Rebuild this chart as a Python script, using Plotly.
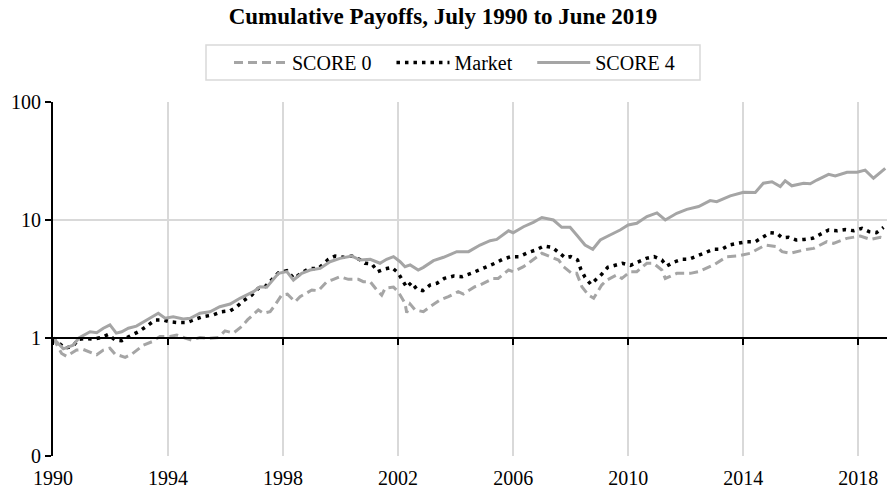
import plotly.graph_objects as go

# ---- data ----
s4_x = [1990.0, 1990.36, 1990.7, 1990.9, 1991.29, 1991.52, 1991.75, 1991.98, 1992.2, 1992.39, 1992.62, 1992.9,
        1993.26, 1993.66, 1993.9, 1994.18, 1994.53, 1994.77, 1995.11, 1995.46, 1995.8, 1996.16, 1996.5, 1996.97,
        1997.2, 1997.43, 1997.84, 1998.13, 1998.36, 1998.65, 1998.94, 1999.29, 1999.63, 1999.98, 2000.39, 2000.68,
        2001.03, 2001.37, 2001.6, 2001.84, 2002.07, 2002.24, 2002.42, 2002.7, 2002.88, 2003.23, 2003.58, 2004.04,
        2004.45, 2004.85, 2005.2, 2005.43, 2005.84, 2006.0, 2006.36, 2006.7, 2007.0, 2007.4, 2007.69, 2007.98,
        2008.21, 2008.5, 2008.77, 2009.03, 2009.37, 2009.72, 2010.0, 2010.3, 2010.65, 2011.0, 2011.29, 2011.69,
        2012.04, 2012.45, 2012.85, 2013.08, 2013.55, 2014.01, 2014.42, 2014.7, 2015.0, 2015.29, 2015.46, 2015.69,
        2016.1, 2016.33, 2016.56, 2016.97, 2017.2, 2017.61, 2017.96, 2018.24, 2018.53, 2018.77, 2018.94]
s4_y = [1.00, 0.81, 0.87, 1.00, 1.13, 1.11, 1.21, 1.29, 1.10, 1.13, 1.21, 1.26,
        1.42, 1.62, 1.47, 1.51, 1.45, 1.47, 1.62, 1.67, 1.84, 1.94, 2.17, 2.47,
        2.72, 2.69, 3.53, 3.65, 3.10, 3.53, 3.77, 3.89, 4.43, 4.73, 4.95, 4.58,
        4.65, 4.30, 4.65, 4.89, 4.43, 4.02, 4.16, 3.77, 3.97, 4.52, 4.83, 5.39,
        5.39, 6.14, 6.68, 6.85, 8.11, 7.80, 8.77, 9.55, 10.5, 10.0, 8.67, 8.67,
        7.46, 6.14, 5.65, 6.77, 7.46, 8.23, 9.07, 9.38, 10.7, 11.5, 10.0, 11.4,
        12.3, 13.0, 14.6, 14.3, 16.0, 17.2, 17.1, 20.5, 21.1, 19.2, 21.5, 19.5,
        20.5, 20.3, 21.8, 24.4, 23.6, 25.4, 25.4, 26.5, 22.6, 25.2, 27.4]

mk_x = [1990.0, 1990.42, 1990.7, 1990.88, 1991.17, 1991.4, 1991.69, 1991.92, 1992.16, 1992.39, 1992.68, 1992.97,
        1993.26, 1993.55, 1993.84, 1994.07, 1994.36, 1994.65, 1994.94, 1995.23, 1995.58, 1995.87, 1996.16, 1996.39,
        1996.62, 1996.91, 1997.14, 1997.37, 1997.6, 1997.84, 1998.13, 1998.38, 1998.65, 1998.92, 1999.23, 1999.58,
        1999.81, 2000.12, 2000.39, 2000.65, 2000.85, 2001.09, 2001.29, 2001.49, 2001.78, 2002.0, 2002.16, 2002.3,
        2002.47, 2002.65, 2002.86, 2003.11, 2003.35, 2003.61, 2003.93, 2004.22, 2004.54, 2004.83, 2005.09, 2005.37,
        2005.64, 2005.92, 2006.21, 2006.5, 2006.79, 2007.07, 2007.36, 2007.58, 2007.81, 2008.0, 2008.24, 2008.35,
        2008.5, 2008.7, 2008.88, 2009.08, 2009.29, 2009.56, 2009.8, 2010.08, 2010.35, 2010.63, 2010.9, 2011.17,
        2011.34, 2011.6, 2011.87, 2012.1, 2012.39, 2012.68, 2012.97, 2013.26, 2013.52, 2013.8, 2014.12, 2014.42,
        2014.65, 2014.94, 2015.17, 2015.35, 2015.58, 2015.84, 2016.12, 2016.41, 2016.68, 2016.97, 2017.26, 2017.55,
        2017.84, 2018.13, 2018.39, 2018.63, 2018.88]
mk_y = [1.00, 0.82, 0.855, 0.975, 0.99, 0.98, 1.01, 1.07, 0.96, 0.95, 1.04, 1.13,
        1.26, 1.42, 1.42, 1.37, 1.35, 1.35, 1.44, 1.52, 1.57, 1.67, 1.70, 1.84,
        2.07, 2.31, 2.64, 2.72, 3.10, 3.57, 3.72, 3.20, 3.57, 3.89, 3.89, 4.65,
        4.95, 4.83, 4.95, 4.65, 4.30, 4.24, 3.65, 3.82, 3.96, 3.57, 3.06, 2.69,
        2.96, 2.59, 2.52, 2.81, 2.91, 3.20, 3.35, 3.31, 3.53, 3.77, 4.02, 4.30,
        4.65, 4.89, 4.89, 5.28, 5.57, 6.02, 5.86, 5.30, 4.79, 4.89, 4.58, 3.84,
        3.27, 2.85, 3.10, 3.47, 3.97, 4.16, 4.30, 4.13, 4.43, 4.73, 4.89, 4.58,
        4.07, 4.41, 4.65, 4.65, 4.95, 5.32, 5.65, 5.65, 6.14, 6.34, 6.55, 6.55,
        7.13, 7.80, 7.70, 7.07, 7.13, 6.77, 6.85, 6.99, 7.56, 8.23, 8.11, 8.30,
        8.11, 8.51, 7.95, 7.80, 8.67]

s0_x = [1990.0, 1990.3, 1990.47, 1990.82, 1991.05, 1991.52, 1991.75, 1991.98, 1992.16, 1992.51, 1992.74, 1993.14,
        1993.44, 1993.72, 1994.07, 1994.3, 1994.59, 1994.82, 1995.11, 1995.4, 1995.75, 1995.98, 1996.27, 1996.56,
        1996.77, 1997.14, 1997.32, 1997.55, 1997.72, 1997.95, 1998.15, 1998.42, 1998.59, 1999.0, 1999.23, 1999.52,
        1999.69, 1999.98, 2000.27, 2000.62, 2000.79, 2001.03, 2001.26, 2001.43, 2001.55, 2001.84, 2002.0, 2002.24,
        2002.3, 2002.42, 2002.59, 2002.88, 2003.11, 2003.46, 2003.75, 2004.09, 2004.27, 2004.67, 2004.85, 2005.3,
        2005.48, 2005.84, 2006.0, 2006.36, 2006.6, 2007.0, 2007.29, 2007.58, 2007.75, 2008.04, 2008.21, 2008.39,
        2008.62, 2008.8, 2009.08, 2009.26, 2009.6, 2009.78, 2010.07, 2010.3, 2010.65, 2010.88, 2011.17, 2011.29,
        2011.69, 2012.16, 2012.45, 2012.97, 2013.43, 2013.78, 2014.24, 2014.59, 2014.77, 2015.17, 2015.35, 2015.63,
        2016.1, 2016.45, 2016.91, 2017.14, 2017.6, 2018.07, 2018.42, 2018.77, 2018.94]
s0_y = [1.00, 0.74, 0.70, 0.79, 0.80, 0.72, 0.79, 0.82, 0.73, 0.686, 0.73, 0.87,
        0.93, 1.03, 1.03, 1.06, 1.00, 0.96, 1.01, 0.99, 1.01, 1.15, 1.10, 1.25,
        1.43, 1.73, 1.62, 1.67, 1.90, 2.31, 2.35, 2.03, 2.24, 2.55, 2.52, 3.00,
        3.10, 3.31, 3.14, 3.14, 3.00, 3.00, 2.55, 2.31, 2.64, 2.70, 2.47, 1.97,
        1.64, 1.94, 1.73, 1.67, 1.84, 2.10, 2.24, 2.47, 2.36, 2.72, 2.81, 3.20,
        3.20, 3.77, 3.65, 4.02, 4.43, 5.22, 4.89, 4.58, 4.02, 3.53, 3.53, 2.72,
        2.31, 2.17, 2.81, 3.10, 3.42, 3.20, 3.65, 3.65, 4.30, 4.30, 3.77, 3.20,
        3.53, 3.53, 3.65, 4.16, 4.89, 4.95, 5.22, 5.75, 6.14, 5.94, 5.39, 5.22,
        5.57, 5.75, 6.55, 6.34, 6.99, 7.30, 6.85, 7.13, 6.99]

x_ticks = [1990, 1994, 1998, 2002, 2006, 2010, 2014, 2018]
x_ticktext = ["1990", "1994", "1998", "2002", "2006", "2010", "2014", "2018"]
y_ticks = [0.1, 1, 10, 100]
y_ticktext = ["0", "1", "10", "100"]

FONT = "Liberation Serif, Times New Roman, serif"
GRAY = "#a5a5a5"
GRID = "#d9d9d9"
PAD = "\u00a0" * 3  # spacing between legend entries

# plot area in pixels: left 53, right 887, top 102, bottom 456
L, R, T, B = 53, 887, 102, 456
def px_x(p):
    return (p - L) / (R - L)
def px_y(p):
    return (B - p) / (B - T)

fig = go.Figure()
fig.add_trace(go.Scatter(x=s0_x, y=s0_y, mode="lines", name="SCORE 0" + PAD,
                         line=dict(color=GRAY, width=3, dash="9px,5px")))
fig.add_trace(go.Scatter(x=mk_x, y=mk_y, mode="lines", name="Market" + PAD,
                         line=dict(color="black", width=3.5, dash="3.5px,5px")))
fig.add_trace(go.Scatter(x=s4_x, y=s4_y, mode="lines", name="SCORE 4",
                         line=dict(color=GRAY, width=3)))
# invisible helper trace so that the crossing axis at y = 1 is drawn
fig.add_trace(go.Scatter(x=[x_ticks[0]], y=[1], xaxis="x2", mode="markers",
                         marker=dict(opacity=0), showlegend=False, hoverinfo="skip"))

fig.update_layout(
    width=887, height=491,
    margin=dict(l=L, r=887 - R, t=T, b=491 - B),
    paper_bgcolor="white", plot_bgcolor="white",
    font=dict(family=FONT, size=20, color="black"),
    title=dict(text="<b>Cumulative Payoffs, July 1990 to June 2019</b>",
               x=px_x(443), xref="paper", xanchor="center", y=1 - 16 / 491, yanchor="middle",
               font=dict(family=FONT, size=23, color="black")),
    legend=dict(orientation="h", x=px_x(229), xanchor="left", y=px_y(43), yanchor="top",
                borderwidth=0, bgcolor="rgba(0,0,0,0)", itemwidth=53,
                font=dict(family=FONT, size=20, color="black")),
    shapes=[dict(type="rect", xref="paper", yref="paper",
                 x0=px_x(206), x1=px_x(700), y0=px_y(80), y1=px_y(45),
                 line=dict(color=GRID, width=1.5), layer="below")],
    xaxis=dict(range=[1990, 2019.0], tickvals=x_ticks, ticktext=x_ticktext,
               showgrid=True, gridcolor=GRID, gridwidth=1.5, zeroline=False,
               showline=False, ticks="", ticklabelstandoff=8),
    xaxis2=dict(range=[1990, 2019.0], overlaying="x", anchor="free", position=1/3,
                side="bottom", tickvals=x_ticks, showticklabels=False,
                showline=True, linecolor="black", linewidth=2,
                ticks="outside", ticklen=6, tickwidth=2, tickcolor="black",
                showgrid=False, zeroline=False),
    yaxis=dict(type="log", range=[-1, 2], tickvals=y_ticks, ticktext=y_ticktext,
               showgrid=True, gridcolor=GRID, gridwidth=1.5, zeroline=False,
               showline=True, linecolor="black", linewidth=2,
               ticks="outside", ticklen=6, tickwidth=2, tickcolor="black"),
)

fig.write_html("out.html", config={"displayModeBar": False},
               post_script="document.body.style.margin='0';")
